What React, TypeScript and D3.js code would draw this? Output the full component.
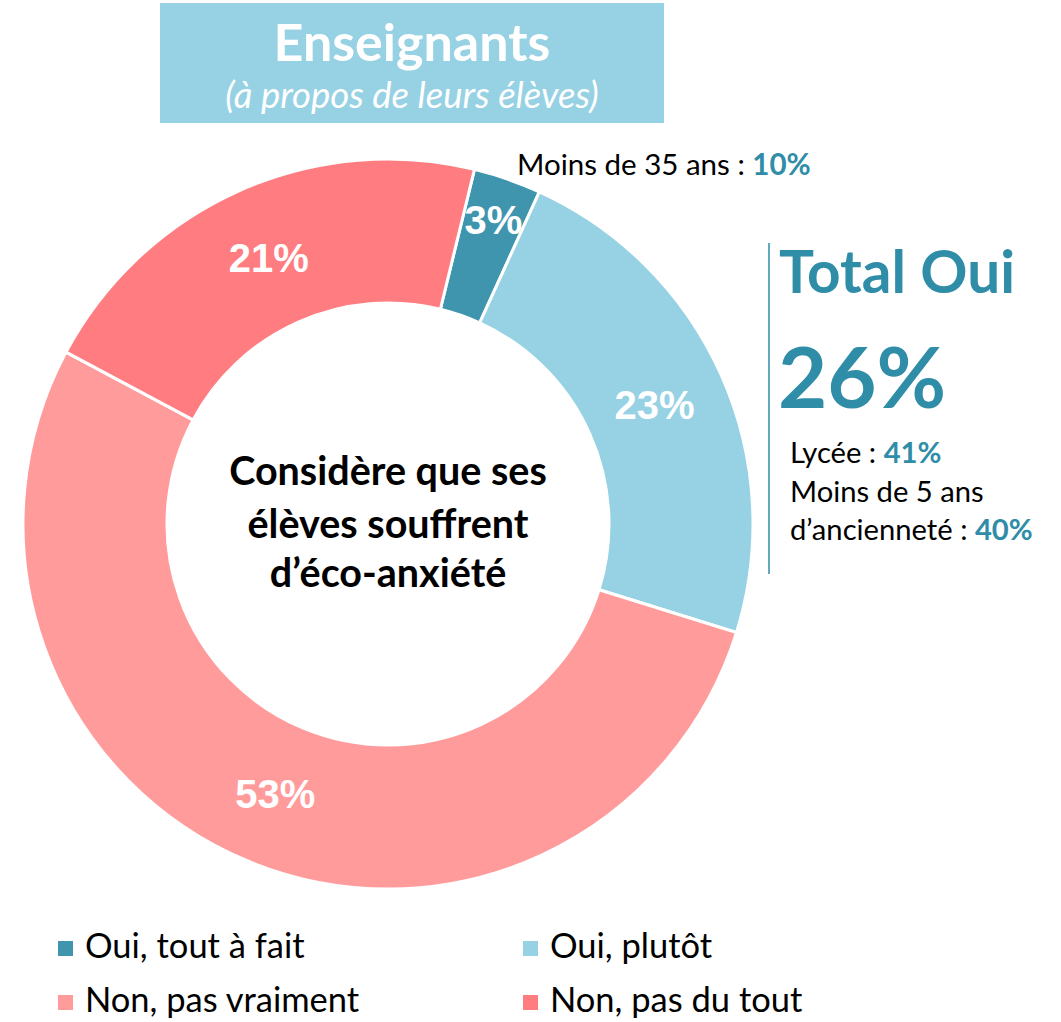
import React from 'react';
import * as d3 from 'd3';

const categories = ['Oui, tout à fait', 'Oui, plutôt', 'Non, pas vraiment', 'Non, pas du tout'];
const values = [3, 23, 53, 21];
const colors = ['#4095AE', '#97D1E4', '#FF9B9B', '#FF7D81'];
const subgroupNotes = [
  { label: 'Lycée : ', value: '41%' },
  { label: 'Moins de 5 ans', value: '' },
  { label: 'd\u2019ancienneté : ', value: '40%' },
];
const totalOui = '26%';
const youngNote = { label: 'Moins de 35 ans : ', value: '10%' };

const W = 1061;
const H = 1022;
const cx = 388;
const cy = 524;
const outerR = 365;
const innerR = 221;
const teal = '#2F8DA8';
const calibri = 'Lato, "Open Sans", sans-serif';
const arial = '"Liberation Sans", Arial, sans-serif';

const App = () => {
  const startAngle = (13.7 * Math.PI) / 180;
  const pie = d3
    .pie<number>()
    .sort(null)
    .startAngle(startAngle)
    .endAngle(startAngle + 2 * Math.PI);
  const arcs = pie(values);

  const arc = d3.arc<d3.PieArcDatum<number>>().innerRadius(innerR).outerRadius(outerR);
  // labels sit near mid-ring, tiny slices pushed outward a little
  const labelArc = (v: number) => {
    const r = v < 5 ? 322 : 292;
    return d3.arc<d3.PieArcDatum<number>>().innerRadius(r).outerRadius(r);
  };

  const legendX = d3.scaleOrdinal<number, number>().domain([0, 1]).range([58, 523]);
  const legendY = d3.scaleOrdinal<number, number>().domain([0, 1]).range([958, 1012]);

  return (
    <svg width={W} height={H} style={{ position: 'absolute', left: 0, top: 0, background: '#fff' }}>
      {/* title box */}
      <rect x={160} y={3} width={504} height={120} fill="#97D1E4" />
      <text x={412} y={61} textAnchor="middle" fill="#fff" fontFamily={calibri} fontWeight="bold" fontSize={52}>
        Enseignants
      </text>
      <text x={412} y={108} textAnchor="middle" fill="#fff" fontFamily={calibri} fontStyle="italic" fontSize={36.5}>
        (à propos de leurs élèves)
      </text>

      {/* donut */}
      <g transform={`translate(${cx},${cy})`}>
        {arcs.map((a, i) => (
          <path key={i} d={arc(a) ?? ''} fill={colors[i]} stroke="#fff" strokeWidth={3} />
        ))}
        {arcs.map((a, i) => {
          const [x, y] = labelArc(a.value).centroid(a);
          return (
            <text
              key={i}
              x={x}
              y={y}
              dy="0.36em"
              textAnchor="middle"
              fill="#fff"
              fontFamily={arial}
              fontWeight="bold"
              fontSize={40}
            >
              {a.value}%
            </text>
          );
        })}
        <text textAnchor="middle" fill="#000" fontFamily={calibri} fontWeight="bold" fontSize={39.5}>
          <tspan x={0} y={-39}>Considère que ses</tspan>
          <tspan x={0} y={14}>élèves souffrent</tspan>
          <tspan x={0} y={63}>d’éco-anxiété</tspan>
        </text>
      </g>

      {/* side notes */}
      <text x={517} y={175} fontFamily={calibri} fontSize={29.5} fill="#000">
        {youngNote.label}
        <tspan fill={teal} fontWeight="bold">{youngNote.value}</tspan>
      </text>
      <line x1={769} x2={769} y1={243} y2={574} stroke={teal} strokeWidth={1.5} />
      <text x={779} y={293} fontFamily={calibri} fontWeight="bold" fontSize={58.5} fill={teal}>
        Total Oui
      </text>
      <text x={778} y={408} fontFamily={calibri} fontWeight="bold" fontSize={85} fill={teal}>
        {totalOui}
      </text>
      {subgroupNotes.map((n, i) => (
        <text key={i} x={790} y={463 + i * 38.5} fontFamily={calibri} fontSize={29.2} fill="#000">
          {n.label}
          {n.value && (
            <tspan fill={teal} fontWeight="bold">
              {n.value}
            </tspan>
          )}
        </text>
      ))}

      {/* legend */}
      {categories.map((c, i) => {
        const col = i % 2;
        const row = Math.floor(i / 2);
        return (
          <g key={c} transform={`translate(${legendX(col)},${legendY(row)})`}>
            <rect x={0} y={-17} width={15} height={15} fill={colors[i]} />
            <text x={27} y={0} fontFamily={calibri} fontSize={34.5} fill="#000">
              {c}
            </text>
          </g>
        );
      })}
    </svg>
  );
};

export default App;
